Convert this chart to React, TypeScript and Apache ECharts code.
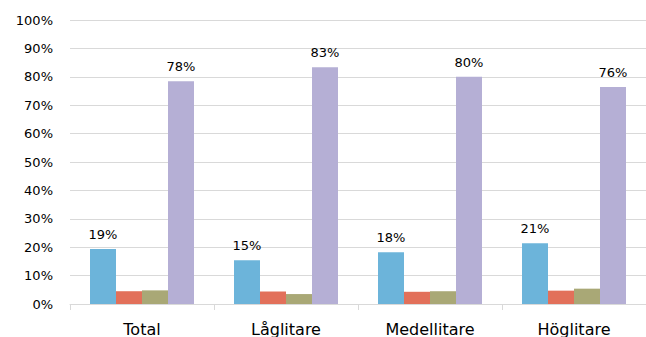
import React, { useEffect, useRef } from "react";
import * as echarts from "echarts";

const categories = ["Total", "Låglitare", "Medellitare", "Höglitare"];
const seriesA = [19.4, 15.4, 18.2, 21.4];
const seriesB = [4.5, 4.4, 4.3, 4.7];
const seriesC = [4.8, 3.5, 4.5, 5.4];
const seriesD = [78.4, 83.4, 80.0, 76.4];
const yTicks = [0, 10, 20, 30, 40, 50, 60, 70, 80, 90, 100];

const colors = ["#6cb4da", "#e2705a", "#a9a876", "#b5afd5"];
const font = "'DejaVu Sans', sans-serif";

export default function App() {
  const ref = useRef<HTMLDivElement>(null);
  useEffect(() => {
    if (!ref.current) return;
    const chart = echarts.init(ref.current, null, { renderer: "svg" });
    const label = {
      show: true,
      position: "top",
      distance: 8,
      color: "#000",
      fontFamily: font,
      fontSize: 13,
      formatter: (p: any) => Math.round(p.value) + "%",
    };
    const mk = (data: number[], i: number, withLabel: boolean) => ({
      type: "bar",
      data,
      barWidth: 26,
      barGap: "0%",
      itemStyle: { color: colors[i] },
      label: withLabel ? label : { show: false },
    });
    chart.setOption({
      animation: false,
      grid: { left: 70, top: 20, width: 584, height: 285, containLabel: false },
      xAxis: {
        type: "category",
        data: categories,
        axisLine: { lineStyle: { color: "#d9d9d9" } },
        axisTick: { show: true, length: 6, lineStyle: { color: "#d9d9d9" } },
        axisLabel: { color: "#000", fontFamily: font, fontSize: 16, margin: 17 },
      },
      yAxis: {
        type: "value",
        min: yTicks[0],
        max: yTicks[yTicks.length - 1],
        interval: 10,
        axisLine: { show: false },
        axisTick: { show: false },
        splitLine: { lineStyle: { color: "#d9d9d9" } },
        axisLabel: {
          color: "#000",
          fontFamily: font,
          fontSize: 13,
          margin: 17,
          formatter: "{value}%",
        },
      },
      series: [
        mk(seriesA, 0, true),
        mk(seriesB, 1, false),
        mk(seriesC, 2, false),
        mk(seriesD, 3, true),
      ],
    });
    return () => chart.dispose();
  }, []);
  return <div ref={ref} style={{ width: 646, height: 337, position: "absolute", left: 0, top: 0 }} />;
}
